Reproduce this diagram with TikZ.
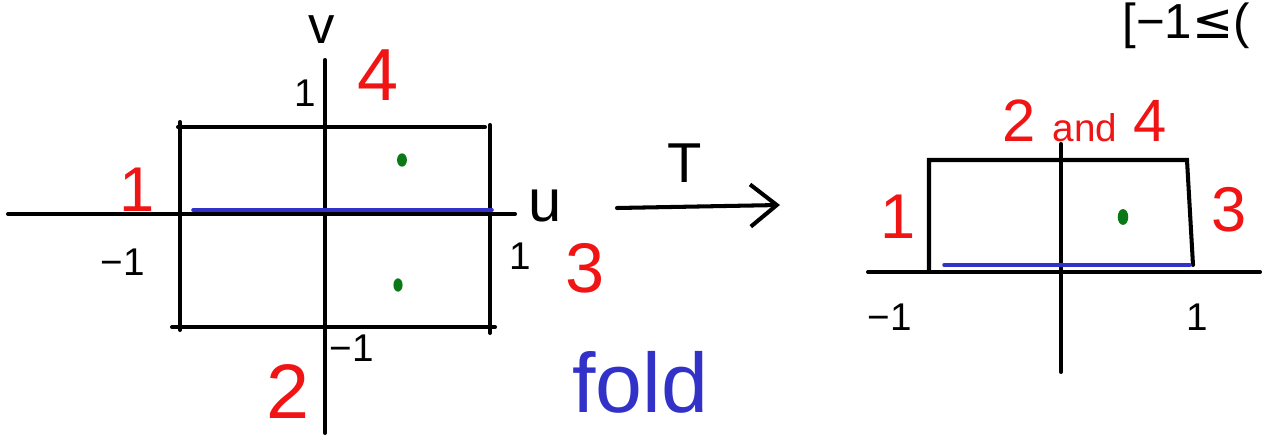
\documentclass[tikz,border=0pt]{standalone}
\usepackage{fontspec}
\setmainfont{Liberation Sans}
\newfontfamily\symfont{DejaVu Sans}
\usetikzlibrary{arrows.meta}
\definecolor{hred}{RGB}{240,20,20}
\definecolor{hblue}{RGB}{50,50,200}
\definecolor{hgreen}{RGB}{10,120,20}
\newcommand{\fsz}[1]{\fontsize{#1}{#1}\selectfont}
\begin{document}
\begin{tikzpicture}[x=0.02cm,y=-0.02cm,
  ink/.style={draw=black,line width=2.3pt,line cap=round},
  bluel/.style={draw=hblue,line width=2pt,line cap=round},
  redlab/.style={text=hred,inner sep=0pt},
  blacklab/.style={text=black,inner sep=0pt},
]
\useasboundingbox (0,0) rectangle (1262,435);
\clip (0,0) rectangle (1262,435);
\fill[white] (0,0) rectangle (1262,435);

% ---- left diagram ----
\coordinate (uL) at (8,214);
\coordinate (uR) at (515,214);
\coordinate (vT) at (325,60);
\coordinate (vB) at (325,433);
\draw[ink] (uL) -- (uR);
\draw[ink] (vT) -- (vB);
\coordinate (rtl) at (178,127); \coordinate (rtr) at (485,127);
\coordinate (rlt) at (180,122); \coordinate (rlb) at (180,330);
\coordinate (rbl) at (172,327); \coordinate (rbr) at (495,327);
\coordinate (rrt) at (490,125); \coordinate (rrb) at (490,333);
\draw[ink] (rtl) -- (rtr);
\draw[ink] (rlt) -- (rlb);
\draw[ink] (rbl) -- (rbr);
\draw[ink] (rrt) -- (rrb);
\coordinate (bl1) at (193,210); \coordinate (bl2) at (492,210);
\draw[bluel] (bl1) -- (bl2);
\fill[hgreen] (402,160) ellipse (2.8pt and 3.8pt);
\fill[hgreen] (398,285) ellipse (2.6pt and 3.8pt);

\node[blacklab,font=\fsz{30}] (v) at (322,30) {v};
\node[blacklab,font=\fsz{22}] (vone) at (305,93) {1};
\node[redlab,font=\fsz{42}] (four) at (378,75) {4};
\node[redlab,font=\fsz{36}] (one) at (137,190) {1};
\node[blacklab,font=\fsz{22}] (mone) at (123,262) {\textminus1};
\node[blacklab,font=\fsz{22}] (uone) at (520,256) {1};
\node[blacklab,font=\fsz{34}] (u) at (545,206) {u};
\node[redlab,font=\fsz{40}] (three) at (585,268) {3};
\node[blacklab,font=\fsz{22}] (vmone) at (352,348) {\textminus1};
\node[redlab,font=\fsz{44}] (two) at (288,392) {2};
\node[text=hblue,inner sep=0pt,font=\fsz{48}] (fold) at (640,382) {fold};

% ---- arrow T ----
\coordinate (as) at (617,208);
\coordinate (ae) at (780,205);
\draw[ink,-{Straight Barb[length=15pt,width=24pt,line width=2.3pt]}] (as) -- (ae);
\node[blacklab,font=\fsz{32}] (T) at (685,163) {T};

% ---- right diagram ----
\coordinate (xL) at (868,272);
\coordinate (xR) at (1260,272);
\coordinate (yT) at (1061,144);
\coordinate (yB) at (1061,372);
\draw[ink] (xL) -- (xR);
\draw[ink] (yT) -- (yB);
\coordinate (q1) at (929,271); \coordinate (q2) at (929,160);
\coordinate (q3) at (1187,160); \coordinate (q4) at (1193,265);
\draw[ink] (q1) -- (q2) -- (q3) -- (q4);
\coordinate (b1) at (944,265); \coordinate (b2) at (1190,265);
\draw[bluel] (b1) -- (b2);
\fill[hgreen] (1123,217) ellipse (3pt and 4.5pt);

\node[redlab,font=\fsz{34},anchor=base] (twofour) at (1085,142) {2 {\fsz{22}and} 4};
\node[redlab,font=\fsz{36}] (rone) at (898,217) {1};
\node[redlab,font=\fsz{36}] (rthree) at (1229,210) {3};
\node[blacklab,font=\fsz{22}] (rmone) at (890,317) {\textminus1};
\node[blacklab,font=\fsz{22}] (rpone) at (1197,317) {1};

% ---- text at top right ----
\node[blacklab,anchor=base west,font=\fsz{28}] (topright) at (1122,39) {[\textminus1{\symfont ≤}(};
\end{tikzpicture}
\end{document}
